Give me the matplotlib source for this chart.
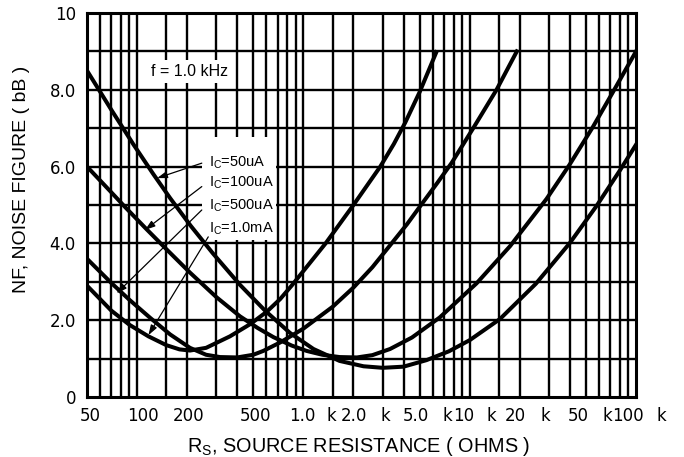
import matplotlib
matplotlib.use('Agg')
import matplotlib.pyplot as plt
from matplotlib.patches import Rectangle
from matplotlib.ticker import NullLocator

# curves (source resistance in ohms, NF in dB)
rs_50ua = [50, 70, 95, 125, 158, 210, 287, 416, 588, 830, 1150, 1650, 2300, 3000,
           4000, 5500, 7500, 10000, 15200, 25000, 40000, 58000, 80000, 100000]
nf_50ua = [8.5, 7.48, 6.58, 5.81, 5.18, 4.46, 3.73, 2.92, 2.25, 1.67, 1.25, 0.94, 0.8, 0.76,
           0.79, 0.96, 1.19, 1.48, 2.03, 2.95, 4.01, 4.98, 5.9, 6.57]

rs_100ua = [50, 70, 85, 114, 150, 208, 300, 416, 530, 660, 850, 1047, 1300, 1650, 2100,
            2600, 3320, 4500, 6600, 11000, 17500, 29000, 40000, 55000, 72000, 100000]
nf_100ua = [6.0, 5.33, 4.94, 4.37, 3.85, 3.24, 2.6, 2.1, 1.8, 1.56, 1.34, 1.2, 1.1, 1.04, 1.03,
            1.09, 1.25, 1.55, 2.07, 2.96, 3.93, 5.16, 6.06, 7.03, 7.91, 9.0]

rs_500ua = [50, 70, 90, 120, 158, 208, 260, 315, 400, 500, 574, 725, 1000, 1500, 2000,
            2600, 3250, 4200, 5200, 6400, 7800, 10500, 14500, 19200]
nf_500ua = [3.6, 2.97, 2.53, 2.06, 1.63, 1.28, 1.1, 1.04, 1.03, 1.1, 1.2, 1.42, 1.78, 2.35, 2.85,
            3.38, 3.9, 4.5, 5.05, 5.58, 6.1, 7.0, 8.0, 9.0]

rs_1ma = [50, 70, 90, 117, 150, 180, 208, 260, 362, 480, 602, 725, 850, 1000, 1360,
          2000, 2900, 3500, 4100, 5000, 6300]
nf_1ma = [2.9, 2.25, 1.88, 1.58, 1.35, 1.24, 1.21, 1.28, 1.58, 1.9, 2.22, 2.55, 2.9, 3.28, 4.0,
          5.0, 6.0, 6.59, 7.15, 7.94, 8.98]

curve_names = [r'$\mathregular{I_C}$=50uA', r'$\mathregular{I_C}$=100uA',
               r'$\mathregular{I_C}$=500uA', r'$\mathregular{I_C}$=1.0mA']

xtick_vals = [50, 100, 200, 500, 1000, 2000, 5000, 10000, 20000, 50000, 100000]
xtick_nums = ['50', '100', '200', '500', '1.0', '2.0', '5.0', '10', '20', '50', '100']
ytick_vals = [0, 2, 4, 6, 8, 10]
ytick_labels = ['0', '2.0', '4.0', '6.0', '8.0', '10']

# label placement (pixels) -- the k suffix sits a bit right of each number
num_dx = [3, 6, 1, 2, -1, 0, -4, -6, -4, -8, -8]
k_dx = [None, None, None, None, 28, 32, 28, 22, 26, 21, 25]

plt.rcParams['font.family'] = ['Liberation Sans', 'DejaVu Sans']
tick_font = 'DejaVu Sans'

fig = plt.figure(figsize=(6.84, 4.57), dpi=100)
ax = fig.add_axes([87/684, 60/457, 549/684, 384/457])
ax.set_xscale('log')
ax.set_xlim(50, 100000)
ax.set_ylim(0, 10)

# grid: 1, 1.5, 2..9 per decade
mults = [1, 1.5, 2, 3, 4, 5, 6, 7, 8, 9]
for dec in [10, 100, 1000, 10000]:
    for m in mults:
        v = dec * m
        if 50 < v < 100000:
            ax.axvline(v, color='black', lw=1.7, zorder=1)
for v in range(1, 10):
    ax.axhline(v, color='black', lw=1.7, zorder=1)

for s in ax.spines.values():
    s.set_linewidth(2.2)

ax.xaxis.set_major_locator(NullLocator())
ax.xaxis.set_minor_locator(NullLocator())
ax.set_yticks(ytick_vals)
ax.set_yticklabels(ytick_labels, family=tick_font)
ax.tick_params(axis='y', length=0, pad=8, labelsize=12)

xtr = ax.get_xaxis_transform()
for v, s, dx, kd in zip(xtick_vals, xtick_nums, num_dx, k_dx):
    ax.annotate(s, xy=(v, 0), xycoords=xtr, xytext=(dx, -19), textcoords='offset pixels',
                ha='center', va='center', fontsize=12, family=tick_font, annotation_clip=False)
    if kd is not None:
        ax.annotate('k', xy=(v, 0), xycoords=xtr, xytext=(kd, -19), textcoords='offset pixels',
                    ha='center', va='center', fontsize=12, family=tick_font,
                    annotation_clip=False)

for rs, nf in [(rs_50ua, nf_50ua), (rs_100ua, nf_100ua), (rs_500ua, nf_500ua), (rs_1ma, nf_1ma)]:
    ax.plot(rs, nf, color='black', lw=2.9, solid_joinstyle='round', zorder=3)

# white patch behind the curve labels
ax.add_patch(Rectangle((245, 4.09), 680 - 245, 6.77 - 4.09, facecolor='white',
                       edgecolor='none', zorder=2))

label_y = [5.99, 5.47, 4.87, 4.27]
tails = [(245, 6.09), (245, 5.48), (245, 4.87), (268, 4.17)]
heads = [(132, 5.70), (111.6, 4.35), (75.4, 2.70), (117, 1.61)]
for name, ly, t, h in zip(curve_names, label_y, tails, heads):
    ax.text(271, ly, name, fontsize=10.5, ha='left', va='baseline', zorder=4)
    ax.annotate('', xy=h, xytext=t,
                arrowprops=dict(arrowstyle='-|>,head_length=0.6,head_width=0.2', color='black',
                                lw=0.9, mutation_scale=10, shrinkA=0, shrinkB=0), zorder=4)

ax.text(208, 8.47, 'f = 1.0 kHz', fontsize=11.5, ha='center', va='center', zorder=4,
        bbox=dict(facecolor='white', edgecolor='none', pad=3))

fig.text(21.5/684, 1 - 179/457, 'NF, NOISE FIGURE ( bB )', rotation=90,
         ha='center', va='center', fontsize=14)
fig.text(359/684, 1 - 446/457, r'$\mathregular{R_S}$, SOURCE RESISTANCE ( OHMS )',
         ha='center', va='center', fontsize=14.3)

fig.savefig('out.png', dpi=100)
